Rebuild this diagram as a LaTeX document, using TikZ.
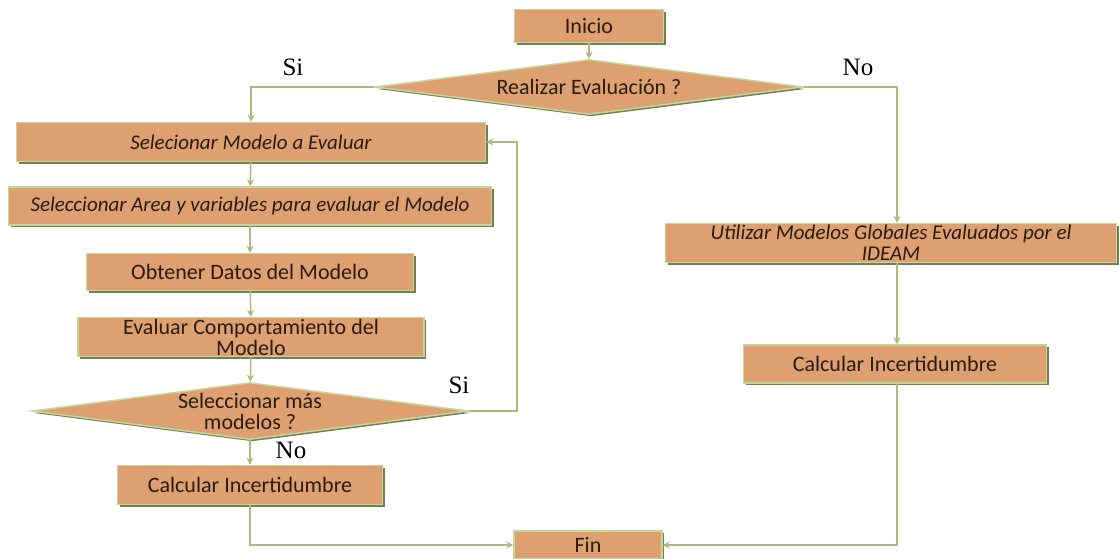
\documentclass[tikz,border=0pt]{standalone}
\usepackage{fontspec}
\setmainfont{Carlito}
\newfontfamily\labelfont{Liberation Serif}
\usepackage{xcolor}
\usepackage{tikz}
\usetikzlibrary{arrows.meta}
\usetikzlibrary{shapes.geometric}
\usetikzlibrary{positioning}
\usetikzlibrary{shadows}

\definecolor{boxfill}{RGB}{222,160,112}
\definecolor{boxedge}{RGB}{196,215,155}
\definecolor{boxshade}{RGB}{118,126,78}
\definecolor{flowline}{RGB}{172,186,128}
\definecolor{inktext}{RGB}{40,28,16}

\begin{document}
\begin{tikzpicture}[
    x = 1pt,
    y = -1pt,
    >={Stealth[length=7pt,width=7pt]}]
    \tikzstyle{every node}=[inktext]
    \tikzstyle{stepbox}=[rectangle,draw=boxedge,line width=1.5pt,fill=boxfill,
      drop shadow={shadow xshift=2pt,shadow yshift=-2pt,fill=boxshade,opacity=1},
      inner sep=0pt,align=center,font=\fontsize{22}{21}\selectfont]
    \tikzstyle{slanted}=[font=\fontsize{21}{21}\selectfont\itshape]
    \tikzstyle{decision}=[diamond,draw=boxedge,line width=1.5pt,fill=boxfill,
      drop shadow={shadow xshift=2pt,shadow yshift=-2pt,fill=boxshade,opacity=1},
      inner sep=0pt]
    \tikzstyle{qtext}=[inktext,align=center,font=\fontsize{22}{21}\selectfont]
    \tikzstyle{flowlabel}=[black,font=\labelfont\fontsize{25}{25}\selectfont]
    \tikzstyle{flow}=[draw=flowline,line width=1.5pt]
    \useasboundingbox (0,0) rectangle (1119,558);
    % columns for the vertical lines
    \coordinate (rightcol) at (897,0);
    \coordinate (loopcol) at (517,0);
    % main column
    \node[stepbox,minimum width=149pt,minimum height=33pt] (inicio) at (589,26) {Inicio};
    \node[decision,minimum width=428pt,minimum height=55pt,
      label={[qtext]center:Realizar Evaluación ?}] (evalq) at (589,87) {};
    \node[stepbox,slanted,minimum width=469pt,minimum height=39pt] (selmod) at (251,142)
      {Selecionar Modelo a Evaluar};
    \node[stepbox,slanted,minimum width=483pt,minimum height=38pt] (selarea) at (250,206)
      {Seleccionar Area y variables para evaluar el Modelo};
    \node[stepbox,minimum width=327pt,minimum height=37pt] (datos) at (250,272)
      {Obtener Datos del Modelo};
    \node[stepbox,minimum width=346pt,minimum height=39pt] (evalcomp) at (251,337)
      {Evaluar Comportamiento del\\Modelo};
    \node[decision,minimum width=436pt,minimum height=57pt,
      label={[qtext]center:Seleccionar más\\modelos ?}] (masq) at (250,411) {};
    \node[stepbox,minimum width=265pt,minimum height=39pt] (incleft) at (250,485)
      {Calcular Incertidumbre};
    \node[stepbox,minimum width=148pt,minimum height=28pt] (fin) at (588,545) {Fin};
    % right column
    \node[stepbox,slanted,minimum width=451pt,minimum height=39pt] (global) at (891,243)
      {Utilizar Modelos Globales Evaluados por el\\IDEAM};
    \node[stepbox,minimum width=303pt,minimum height=38pt] (incright) at (895,364)
      {Calcular Incertidumbre};
    % answers
    \node[flowlabel] (si1) at (293,67) {Si};
    \node[flowlabel] (no1) at (858,67) {No};
    \node[flowlabel] (si2) at (459,385) {Si};
    \node[flowlabel] (no2) at (291,450) {No};
    % connectors
    \path[flow,->]
    (inicio) edge (evalq)
    (selmod) edge (selarea)
    (selarea) edge (datos)
    (datos) edge (evalcomp)
    (evalcomp) edge (masq)
    (masq) edge (incleft) ;
    \draw[flow,->] (evalq.west) -| (selmod.north);
    \draw[flow,->] (evalq.east) -| (global.north -| rightcol);
    \draw[flow,->] (masq.east) -- (masq.east -| loopcol) |- (selmod.east);
    \draw[flow,->] (global.south -| rightcol) -- (incright.north -| rightcol);
    \draw[flow,->] (incleft.south) |- (fin.west);
    \draw[flow,->] (incright.south -| rightcol) |- (fin.east);
\end{tikzpicture}
\end{document}
